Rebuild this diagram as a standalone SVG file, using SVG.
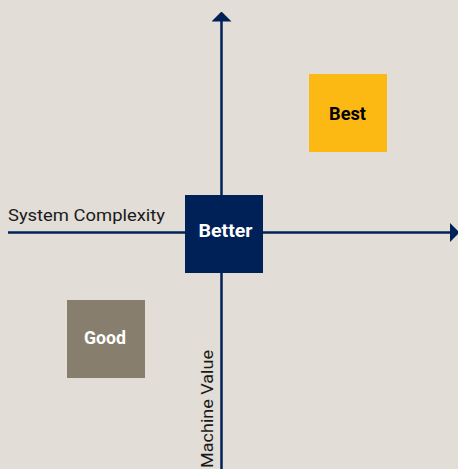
<svg xmlns="http://www.w3.org/2000/svg" width="458" height="469" viewBox="0 0 458 469">
<style>
.ax{stroke:#002157;stroke-width:2.5;fill:none}
.lbl{font-family:Roboto,"Liberation Sans",sans-serif;font-size:17px;fill:#1a1a1a}
.nt{font-family:Roboto,"Liberation Sans",sans-serif;font-size:18px;font-weight:bold;text-anchor:middle}
</style>
<defs>
<marker id="ah" viewBox="0 0 10 20" markerUnits="userSpaceOnUse" markerWidth="10" markerHeight="20" refX="0.5" refY="10" orient="auto">
<path d="M0,0 L10,10 L0,20 Z" fill="#002157"/>
</marker>
</defs>
<rect width="458" height="469" fill="#e2ddd7"/>
<g id="connectors">
<line class="ax" x1="221.5" y1="469" x2="221.5" y2="21" marker-end="url(#ah)"/>
<line class="ax" x1="8" y1="232.5" x2="450" y2="232.5" marker-end="url(#ah)"/>
</g>
<g id="axis-labels">
<text class="lbl" x="8" y="221" textLength="157" lengthAdjust="spacingAndGlyphs">System Complexity</text>
<text class="lbl" transform="translate(213,468) rotate(-90)" textLength="118" lengthAdjust="spacingAndGlyphs">Machine Value</text>
</g>
<g id="node-better">
<rect x="185" y="195" width="78" height="78" fill="#002157"/>
<text class="nt" x="225.5" y="237" fill="#ffffff" textLength="54" lengthAdjust="spacingAndGlyphs">Better</text>
</g>
<g id="node-best">
<rect x="309" y="74" width="78" height="78" fill="#fdb913"/>
<text class="nt" x="347.5" y="120" fill="#000000" textLength="37" lengthAdjust="spacingAndGlyphs">Best</text>
</g>
<g id="node-good">
<rect x="67" y="300" width="78" height="78" fill="#877e6d"/>
<text class="nt" x="105" y="344" fill="#ffffff" textLength="42" lengthAdjust="spacingAndGlyphs">Good</text>
</g>
</svg>
